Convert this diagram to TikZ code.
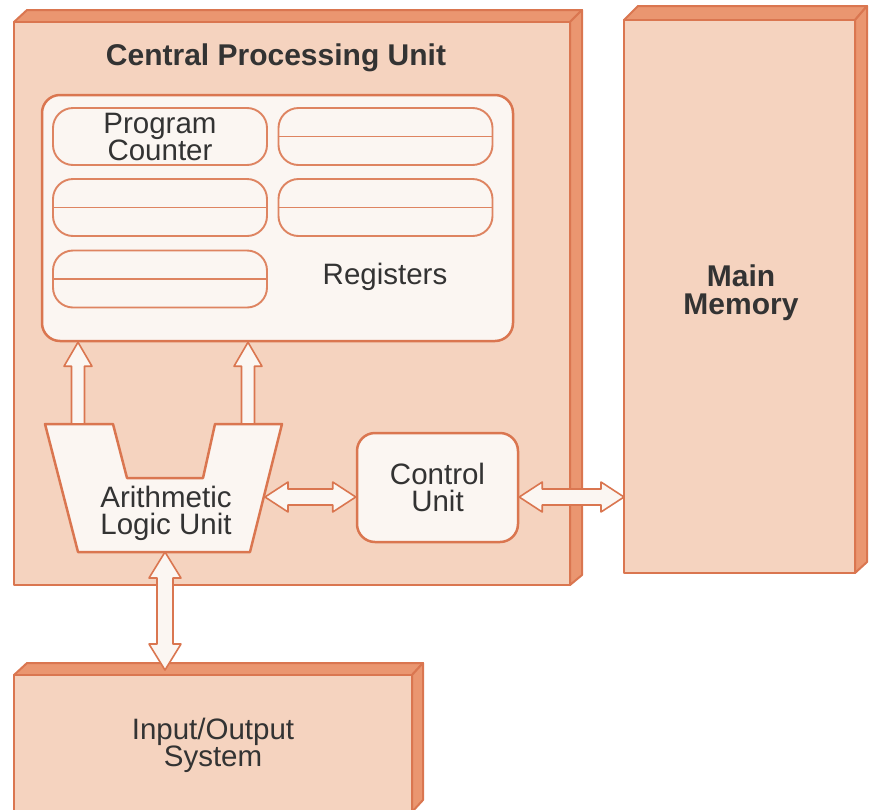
\documentclass[tikz,border=0pt]{standalone}
\usepackage{fontspec}
\setmainfont{Liberation Sans}
\usetikzlibrary{calc}
\definecolor{face}{HTML}{F5D3BF}
\definecolor{side}{HTML}{EA9670}
\definecolor{edge}{HTML}{DA7650}
\definecolor{inner}{HTML}{FBF6F2}
\definecolor{txt}{HTML}{333333}
\newcommand\hdbl[2]{\draw[blk] let \p1=(#1), \p2=(#2) in
  (\x1,\y1) -- (\x1+23pt,\y1+15pt) -- (\x1+23pt,\y1+8pt) -- (\x2-23pt,\y1+8pt) -- (\x2-23pt,\y1+15pt) -- (\x2,\y1)
  -- (\x2-23pt,\y1-15pt) -- (\x2-23pt,\y1-8pt) -- (\x1+23pt,\y1-8pt) -- (\x1+23pt,\y1-15pt) -- cycle;}
\newcommand\vdbl[2]{\draw[blk] let \p1=(#1), \p2=(#2) in
  (\x1,\y1) -- (\x1+16pt,\y1-26pt) -- (\x1+8pt,\y1-26pt) -- (\x1+8pt,\y2+26pt) -- (\x1+16pt,\y2+26pt) -- (\x1,\y2)
  -- (\x1-16pt,\y2+26pt) -- (\x1-8pt,\y2+26pt) -- (\x1-8pt,\y1-26pt) -- (\x1-16pt,\y1-26pt) -- cycle;}
\newcommand\vup[2]{\draw[blk] let \p1=(#1), \p2=(#2) in
  (\x1-6.5pt,\y1) -- (\x1-6.5pt,\y2-24pt) -- (\x1-14pt,\y2-24pt) -- (\x1,\y2) -- (\x1+14pt,\y2-24pt) -- (\x1+6.5pt,\y2-24pt) -- (\x1+6.5pt,\y1) -- cycle;}
\begin{document}
\begin{tikzpicture}[x=1pt,y=-1pt,line join=round,
  front/.style={fill=face,draw=edge,line width=2.2pt},
  sideface/.style={fill=side,draw=edge,line width=2pt},
  lbl/.style={text=txt,font=\fontsize{29.5}{27}\selectfont,align=center,inner sep=0pt},
  boldlbl/.style={text=txt,font=\fontsize{30}{28}\bfseries\selectfont,align=center,inner sep=0pt},
  whitebox/.style={fill=inner,draw=edge,line width=2.5pt,inner sep=0pt},
  pill/.style={fill=inner,draw=edge!90,line width=1.9pt,rounded corners=20pt,minimum width=214pt,minimum height=57pt,inner sep=0pt},
  blk/.style={fill=inner,draw=edge,line width=1.6pt}]
\useasboundingbox (0,0) rectangle (870,809);
% CPU box
\draw[sideface] (14,22) -- (27,10) -- (582,10) -- (570,22) -- cycle;
\draw[sideface] (570,22) -- (582,10) -- (582,575) -- (570,585) -- cycle;
\draw[front] (14,22) rectangle (570,585);
% Main memory
\draw[sideface] (624,20) -- (638,6) -- (867,6) -- (855,20) -- cycle;
\draw[sideface] (855,20) -- (867,6) -- (867,562) -- (855,573) -- cycle;
\draw[front] (624,20) rectangle (855,573);
% IO
\draw[sideface] (14,675) -- (27,663) -- (423,663) -- (412,675) -- cycle;
\draw[sideface] (412,675) -- (423,663) -- (423,800) -- (412,812) -- cycle;
\draw[front] (14,675) rectangle (412,815);
% labels
\node[boldlbl] (cputitle) at (276,58) {Central Processing Unit};
\node[boldlbl] (mem) at (741,293) {Main\\Memory};
\node[lbl] (io) at (213,745) {Input/Output\\System};
% registers
\node[whitebox,rounded corners=18pt,minimum width=471pt,minimum height=246pt] (regs) at (277.5,218) {};
\node[pill] (pc) at (160,136.5) {};
\node[lbl] (pctext) at (pc) {Program\\Counter};
\node[pill] (r2) at (385.5,136.5) {};
\node[pill] (r3) at (160,207.5) {};
\node[pill] (r4) at (385.5,207.5) {};
\node[pill] (r5) at (160,279) {};
\foreach \r in {r2,r3,r4,r5} \draw[draw=edge!90,line width=1.9pt] (\r.west) -- (\r.east);
\node[lbl] (regtext) at (385,277) {Registers};
% ALU
\draw[whitebox] (45,424) -- (113,424) -- (127,478) -- (203,478) -- (215,424) -- (282,424) -- (250,552) -- (78,552) -- cycle;
\node[lbl] (alu) at (166,513) {Arithmetic\\Logic Unit};
\coordinate (aluL) at (78,424);
\coordinate (aluR) at (248,424);
\coordinate (aluE) at (265,497);
\coordinate (aluS) at (165,552);
% control unit
\node[whitebox,rounded corners=18pt,minimum width=161pt,minimum height=109pt] (cu) at (437.5,487.5) {};
\node[lbl] (cutext) at (cu) {Control\\Unit};
\coordinate (memW) at (624,497);
\coordinate (ioN) at (165,670);
% connectors
\vup{aluL}{aluL |- regs.south}
\vup{aluR}{aluR |- regs.south}
\hdbl{aluE}{aluE -| cu.west}
\hdbl{cu.east |- aluE}{memW}
\vdbl{aluS}{ioN}
\end{tikzpicture}
\end{document}
